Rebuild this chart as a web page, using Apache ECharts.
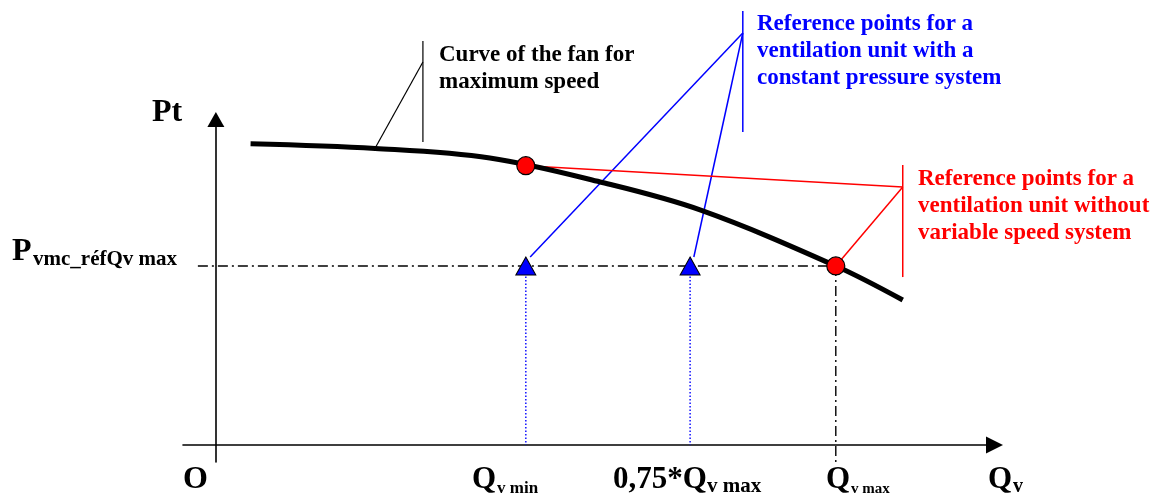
<!DOCTYPE html>
<html><head><meta charset="utf-8">
<script src="https://cdn.jsdelivr.net/npm/echarts@6/dist/echarts.min.js"></script>
<style>html,body{margin:0;padding:0;background:#fff}#c{width:1155px;height:498px}</style>
</head><body><div id="c"></div>
<script>
// ---- data (schematic units: Qv flow on x, Pt pressure on y) ----
const qRange = [-5.3, 125.6];
const pRange = [-9.5, 181.8];
// fan curve at maximum speed
const fanQ = [5.6, 25.7, 44.2, 62, 78.1, 100, 110.8];
const fanP = [168.2, 165.6, 160.3, 146.9, 131.3, 100, 81.0];
// characteristic flows / pressure
const qvMin = 50, qv075 = 76.5, qvMax = 100;
const pRef = 100;
const pAtQvMin = 156;
const refLineStartQ = -2.9;
// reference points
const bluePointsQ = [qvMin, qv075];
const redPointsQ = [qvMin, qvMax];
const redPointsP = [pAtQvMin, pRef];
// annotation leader lines: segments of [q, p] pairs
const blackLeader = [[[25.7, 165.9], [33.4, 213.9]], [[33.4, 225.6], [33.4, 169.2]]];
const blueLeader = [[[50.7, 105], [85, 230.1]], [[77.1, 105], [85, 230.1]], [[85, 242.4], [85, 174.8]]];
const redLeader = [[[50, 156], [110.8, 144.1]], [[100, 100], [110.8, 144.1]], [[110.8, 156.4], [110.8, 93.8]]];
// texts
const blackNote = ['Curve of the fan for', 'maximum speed'];
const blueNote = ['Reference points for a', 'ventilation unit with a', 'constant pressure system'];
const redNote = ['Reference points for a', 'ventilation unit without', 'variable speed system'];
const yTitle = 'Pt';
const pRefLabel = ['P', 'vmc_réfQv max'];
const originLabel = 'O';
const xTickLabels = [['Q', 'v min'], ['0,75*Q', 'v max'], ['Q', 'v max'], ['Q', 'v']];

// ---- chart ----
const BLUE = '#0000ff', RED = '#ff0000', BLACK = '#000000';

function seg(points, color, width, type, z) {
  return {
    type: 'line', data: points, showSymbol: false, symbol: 'none', clip: false, silent: true,
    lineStyle: { color: color, width: width, type: type || 'solid' }, z: z || 2
  };
}
function txt(s, x, baseline, size, color) {
  return {
    type: 'text', x: x, y: baseline - 0.3375 * size, silent: true,
    style: {
      text: s, fill: color, fontFamily: 'Liberation Serif', fontWeight: 'bold', fontSize: size,
      align: 'left', verticalAlign: 'middle'
    }
  };
}

const series = [];
// fan curve
series.push({
  type: 'line', data: fanQ.map((q, i) => [q, fanP[i]]), smooth: 0.35, showSymbol: false, symbol: 'none',
  clip: false, silent: true, lineStyle: { color: BLACK, width: 5 }, z: 3
});
// reference pressure dash-dot line and Qv max drop line
const dashDot = [10, 4, 2, 4];
series.push(seg([[refLineStartQ, pRef], [qvMax, pRef]], BLACK, 1.4, dashDot, 2));
series.push(seg([[qvMax, pRef], [qvMax, pRange[0]]], BLACK, 1.4, dashDot, 2));
// blue dotted drop lines
bluePointsQ.forEach(q => series.push(seg([[q, pRef], [q, 0]], BLUE, 1.4, [1.5, 2], 2)));
// leaders
blackLeader.forEach(s => series.push(seg(s, BLACK, 1.2, 'solid', 2)));
blueLeader.forEach(s => series.push(seg(s, BLUE, 1.5, 'solid', 2)));
redLeader.forEach(s => series.push(seg(s, RED, 1.5, 'solid', 2)));
// points
series.push({
  type: 'scatter', data: bluePointsQ.map(q => [q, pRef]), symbol: 'triangle', symbolSize: [20, 18],
  itemStyle: { color: BLUE, borderColor: BLACK, borderWidth: 1, opacity: 1 }, silent: true, z: 6, clip: false
});
series.push({
  type: 'scatter', data: redPointsQ.map((q, i) => [q, redPointsP[i]]), symbol: 'circle', symbolSize: 18,
  itemStyle: { color: RED, borderColor: BLACK, borderWidth: 1.2, opacity: 1 }, silent: true, z: 6, clip: false
});

// texts
const graphic = [];
graphic.push(txt(yTitle, 152, 124, 32, BLACK));
graphic.push(txt(pRefLabel[0], 12, 263, 32, BLACK));
graphic.push(txt(pRefLabel[1], 33, 267, 21, BLACK));
graphic.push(txt(originLabel, 183, 491, 32, BLACK));
const tickPos = [[472, 497, 17], [613, 707, 21], [826, 851, 15], [988, 1013, 20]];
xTickLabels.forEach((l, i) => {
  graphic.push(txt(l[0], tickPos[i][0], 490, 31, BLACK));
  graphic.push(txt(l[1], tickPos[i][1], 494, tickPos[i][2], BLACK));
});
blackNote.forEach((s, i) => graphic.push(txt(s, 439, 63 + i * 26.5, 23, BLACK)));
blueNote.forEach((s, i) => graphic.push(txt(s, 757, 32 + i * 27, 23, BLUE)));
redNote.forEach((s, i) => graphic.push(txt(s, 918, 187 + i * 27, 23, RED)));

const chart = echarts.init(document.getElementById('c'), null, { renderer: 'canvas' });
chart.setOption({
  animation: false,
  backgroundColor: '#ffffff',
  grid: { left: 183, right: 160.5, top: 119.5, bottom: 36, containLabel: false },
  xAxis: {
    type: 'value', min: qRange[0], max: qRange[1],
    axisLine: { show: true, onZero: true, symbol: ['none', 'triangle'], symbolSize: [17, 17],
      lineStyle: { color: BLACK, width: 1.6 } },
    axisTick: { show: false }, axisLabel: { show: false }, splitLine: { show: false }
  },
  yAxis: {
    type: 'value', min: pRange[0], max: pRange[1],
    axisLine: { show: true, onZero: true, symbol: ['none', 'triangle'], symbolSize: [17, 15],
      lineStyle: { color: BLACK, width: 1.6 } },
    axisTick: { show: false }, axisLabel: { show: false }, splitLine: { show: false }
  },
  series: series,
  graphic: graphic
});
</script>
</body></html>
